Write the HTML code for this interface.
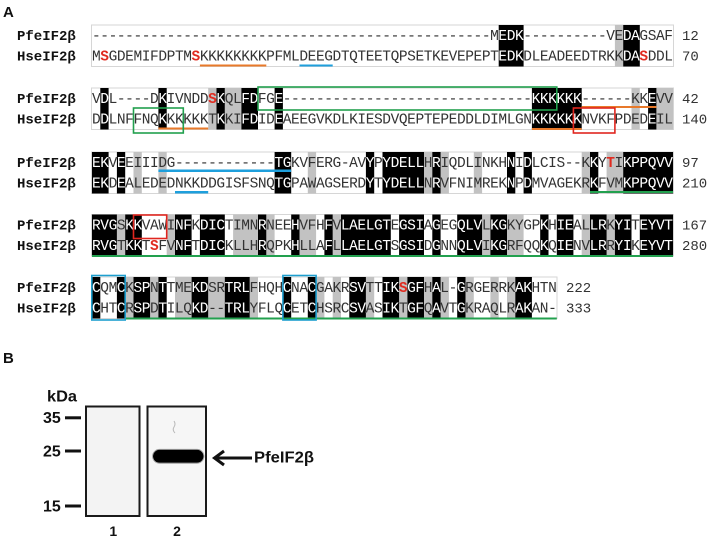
<!DOCTYPE html>
<html><head><meta charset="utf-8">
<style>
html,body{margin:0;padding:0;background:#fff;}
svg{display:block;}
.s{font-family:"Liberation Mono",monospace;font-size:14.5px;fill:#333;}
.w{font-family:"Liberation Mono",monospace;font-size:14.5px;fill:#fff;}
.n{font-family:"Liberation Mono",monospace;font-size:14px;font-weight:bold;fill:#111;}
.num{font-family:"Liberation Mono",monospace;font-size:14px;fill:#333;}
.r{fill:#e02b20;font-weight:bold;}
.lb{font-family:"Liberation Sans",sans-serif;font-weight:bold;fill:#111;}
</style></head>
<body>
<svg width="709" height="540" viewBox="0 0 709 540" xmlns="http://www.w3.org/2000/svg">
<rect width="709" height="540" fill="#fff"/>
<defs>
<clipPath id="k">
<rect x="498.7" y="25" width="24.9" height="41.5"/><rect x="623.2" y="25" width="16.6" height="41.5"/>
<rect x="100.3" y="88" width="8.3" height="41.5"/><rect x="158.4" y="88" width="8.3" height="41.5"/><rect x="216.5" y="88" width="8.3" height="41.5"/><rect x="241.4" y="88" width="16.6" height="41.5"/><rect x="274.6" y="88" width="8.3" height="41.5"/><rect x="531.9" y="88" width="49.8" height="41.5"/><rect x="648.1" y="88" width="8.3" height="41.5"/>
<rect x="92" y="152" width="16.6" height="41.5"/><rect x="116.9" y="152" width="8.3" height="41.5"/><rect x="274.6" y="152" width="16.6" height="41.5"/><rect x="365.9" y="152" width="8.3" height="41.5"/><rect x="382.5" y="152" width="41.5" height="41.5"/><rect x="432.3" y="152" width="8.3" height="41.5"/><rect x="507" y="152" width="8.3" height="41.5"/><rect x="523.6" y="152" width="8.3" height="41.5"/><rect x="590" y="152" width="8.3" height="41.5"/><rect x="623.2" y="152" width="49.8" height="41.5"/>
<rect x="92" y="214.5" width="24.9" height="41.5"/><rect x="125.2" y="214.5" width="16.6" height="41.5"/><rect x="175" y="214.5" width="16.6" height="41.5"/><rect x="199.9" y="214.5" width="24.9" height="41.5"/><rect x="258" y="214.5" width="8.3" height="41.5"/><rect x="291.2" y="214.5" width="8.3" height="41.5"/><rect x="324.4" y="214.5" width="8.3" height="41.5"/><rect x="341" y="214.5" width="49.8" height="41.5"/><rect x="399.1" y="214.5" width="24.9" height="41.5"/><rect x="432.3" y="214.5" width="8.3" height="41.5"/><rect x="457.2" y="214.5" width="24.9" height="41.5"/><rect x="490.4" y="214.5" width="16.6" height="41.5"/><rect x="540.2" y="214.5" width="8.3" height="41.5"/><rect x="556.8" y="214.5" width="16.6" height="41.5"/><rect x="590" y="214.5" width="16.6" height="41.5"/><rect x="614.9" y="214.5" width="16.6" height="41.5"/><rect x="639.8" y="214.5" width="33.2" height="41.5"/>
<rect x="92" y="277" width="8.3" height="41.5"/><rect x="116.9" y="277" width="8.3" height="41.5"/><rect x="133.5" y="277" width="16.6" height="41.5"/><rect x="158.4" y="277" width="8.3" height="41.5"/><rect x="191.6" y="277" width="16.6" height="41.5"/><rect x="224.8" y="277" width="24.9" height="41.5"/><rect x="282.9" y="277" width="8.3" height="41.5"/><rect x="307.8" y="277" width="8.3" height="41.5"/><rect x="349.3" y="277" width="16.6" height="41.5"/><rect x="382.5" y="277" width="16.6" height="41.5"/><rect x="407.4" y="277" width="16.6" height="41.5"/><rect x="432.3" y="277" width="8.3" height="41.5"/><rect x="457.2" y="277" width="8.3" height="41.5"/><rect x="515.3" y="277" width="16.6" height="41.5"/>
</clipPath>
</defs>

<!-- Panel A label -->
<text class="lb" x="3" y="17" font-size="15">A</text>

<!-- light borders -->
<g fill="none" stroke="#d6d6d6" stroke-width="1">
<rect x="91.5" y="25" width="582" height="41.5"/>
<rect x="91.5" y="88" width="582" height="41.5"/>
<rect x="91.5" y="152" width="582" height="41.5"/>
<rect x="91.5" y="214.5" width="582" height="41.5"/>
<rect x="91.5" y="277" width="465.5" height="41.5"/>
</g>

<!-- grey cells -->
<g fill="#c2c2c2">
<rect x="614.9" y="25" width="8.3" height="41.5"/>
<rect x="208.2" y="88" width="8.3" height="41.5"/><rect x="224.8" y="88" width="16.6" height="41.5"/><rect x="631.5" y="88" width="8.3" height="41.5"/><rect x="656.4" y="88" width="16.6" height="41.5"/>
<rect x="133.5" y="152" width="8.3" height="41.5"/><rect x="158.4" y="152" width="8.3" height="41.5"/><rect x="307.8" y="152" width="8.3" height="41.5"/><rect x="424" y="152" width="8.3" height="41.5"/><rect x="440.6" y="152" width="8.3" height="41.5"/><rect x="473.8" y="152" width="8.3" height="41.5"/><rect x="581.7" y="152" width="8.3" height="41.5"/><rect x="606.6" y="152" width="16.6" height="41.5"/>
<rect x="116.9" y="214.5" width="8.3" height="41.5"/><rect x="166.7" y="214.5" width="8.3" height="41.5"/><rect x="233.1" y="214.5" width="24.9" height="41.5"/><rect x="266.3" y="214.5" width="8.3" height="41.5"/><rect x="299.5" y="214.5" width="16.6" height="41.5"/><rect x="332.7" y="214.5" width="8.3" height="41.5"/><rect x="482.1" y="214.5" width="8.3" height="41.5"/><rect x="507" y="214.5" width="16.6" height="41.5"/><rect x="581.7" y="214.5" width="8.3" height="41.5"/><rect x="606.6" y="214.5" width="8.3" height="41.5"/>
<rect x="125.2" y="277" width="8.3" height="41.5"/><rect x="150.1" y="277" width="8.3" height="41.5"/><rect x="175" y="277" width="16.6" height="41.5"/><rect x="208.2" y="277" width="16.6" height="41.5"/><rect x="249.7" y="277" width="8.3" height="41.5"/><rect x="316.1" y="277" width="8.3" height="41.5"/><rect x="332.7" y="277" width="8.3" height="41.5"/><rect x="365.9" y="277" width="8.3" height="41.5"/><rect x="399.1" y="277" width="8.3" height="41.5"/><rect x="424" y="277" width="8.3" height="41.5"/><rect x="440.6" y="277" width="8.3" height="41.5"/><rect x="465.5" y="277" width="8.3" height="41.5"/><rect x="490.4" y="277" width="8.3" height="41.5"/><rect x="507" y="277" width="8.3" height="41.5"/>
</g>

<!-- black cells -->
<rect x="0" y="0" width="709" height="540" fill="#000" clip-path="url(#k)"/>

<!-- underlines -->
<g>
<rect x="199.9" y="64.5" width="66.4" height="2" fill="#e8792a"/>
<rect x="299.5" y="64.5" width="33.2" height="2" fill="#1e9fdc"/>
<rect x="581.7" y="106" width="74.7" height="2" fill="#e8792a"/>
<rect x="158.4" y="127.5" width="49.8" height="2" fill="#e8792a"/>
<rect x="531.9" y="128" width="49.8" height="2" fill="#e8792a"/>
<rect x="158.4" y="169.5" width="132.8" height="2.5" fill="#1e9fdc"/>
<rect x="175" y="191" width="33.2" height="2.5" fill="#1e9fdc"/>
<rect x="590" y="191" width="83" height="2" fill="#22a04e"/>
<rect x="92" y="255" width="581" height="2" fill="#22a04e"/>
<rect x="125.2" y="317.5" width="431.6" height="2" fill="#22a04e"/>
</g>

<!-- names -->
<g>
<text class="n" x="17" y="40">PfeIF2β</text><text class="n" x="17" y="60.5">HseIF2β</text>
<text class="n" x="17" y="103">PfeIF2β</text><text class="n" x="17" y="123.5">HseIF2β</text>
<text class="n" x="17" y="167">PfeIF2β</text><text class="n" x="17" y="187.5">HseIF2β</text>
<text class="n" x="17" y="229.5">PfeIF2β</text><text class="n" x="17" y="250">HseIF2β</text>
<text class="n" x="17" y="292">PfeIF2β</text><text class="n" x="17" y="312.5">HseIF2β</text>
</g>

<!-- sequences (dark) -->
<text class="s" x="92" y="40" textLength="581" lengthAdjust="spacing">------------------------------------------------MEDK----------VEDAGSAF</text>
<text class="s" x="92" y="60.5" textLength="581" lengthAdjust="spacing">M<tspan class="r">S</tspan>GDEMIFDPTM<tspan class="r">S</tspan>KKKKKKKKPFMLDEEGDTQTEETQPSETKEVEPEPTEDKDLEADEEDTRKKDA<tspan class="r">S</tspan>DDL</text>
<text class="s" x="92" y="103" textLength="581" lengthAdjust="spacing">VDL----DKIVNDD<tspan class="r">S</tspan>KQLFDFGE------------------------------KKKKKK------KKEVV</text>
<text class="s" x="92" y="123.5" textLength="581" lengthAdjust="spacing">DDLNFFNQKKKKKKTKKIFDIDEAEEGVKDLKIESDVQEPTEPEDDLDIMLGNKKKKKKNVKFPDEDEIL</text>
<text class="s" x="92" y="167" textLength="581" lengthAdjust="spacing">EKVEEIIIDG------------TGKVFERG-AVYPYDELLHRIQDLINKHNIDLCIS--KKY<tspan class="r">T</tspan>IKPPQVV</text>
<text class="s" x="92" y="187.5" textLength="581" lengthAdjust="spacing">EKDEALEDEDNKKDDGISFSNQTGPAWAGSERDYTYDELLNRVFNIMREKNPDMVAGEKRKFVMKPPQVV</text>
<text class="s" x="92" y="229.5" textLength="581" lengthAdjust="spacing">RVGSKKVAWINFKDICTIMNRNEEHVFHFVLAELGTEGSIAGEGQLVLKGKYGPKHIEALLRKYITEYVT</text>
<text class="s" x="92" y="250" textLength="581" lengthAdjust="spacing">RVGTKKT<tspan class="r">S</tspan>FVNFTDICKLLHRQPKHLLAFLLAELGTSGSIDGNNQLVIKGRFQQKQIENVLRRYIKEYVT</text>
<text class="s" x="92" y="292" textLength="464.8" lengthAdjust="spacing">CQMCKSPNTTMEKDSRTRLFHQHCNACGAKRSVTTIK<tspan class="r">S</tspan>GFHAL-GRGERRKAKHTN</text>
<text class="s" x="92" y="312.5" textLength="464.8" lengthAdjust="spacing">CHTCRSPDTILQKD--TRLYFLQCETCHSRCSVASIKTGFQAVTGKRAQLRAKAN-</text>

<!-- sequences (white on black) -->
<g clip-path="url(#k)">
<text class="w" x="92" y="40" textLength="581" lengthAdjust="spacing">------------------------------------------------MEDK----------VEDAGSAF</text>
<text class="w" x="92" y="60.5" textLength="581" lengthAdjust="spacing">MSGDEMIFDPTMSKKKKKKKKPFMLDEEGDTQTEETQPSETKEVEPEPTEDKDLEADEEDTRKKDASDDL</text>
<text class="w" x="92" y="103" textLength="581" lengthAdjust="spacing">VDL----DKIVNDDSKQLFDFGE------------------------------KKKKKK------KKEVV</text>
<text class="w" x="92" y="123.5" textLength="581" lengthAdjust="spacing">DDLNFFNQKKKKKKTKKIFDIDEAEEGVKDLKIESDVQEPTEPEDDLDIMLGNKKKKKKNVKFPDEDEIL</text>
<text class="w" x="92" y="167" textLength="581" lengthAdjust="spacing">EKVEEIIIDG------------TGKVFERG-AVYPYDELLHRIQDLINKHNIDLCIS--KKYTIKPPQVV</text>
<text class="w" x="92" y="187.5" textLength="581" lengthAdjust="spacing">EKDEALEDEDNKKDDGISFSNQTGPAWAGSERDYTYDELLNRVFNIMREKNPDMVAGEKRKFVMKPPQVV</text>
<text class="w" x="92" y="229.5" textLength="581" lengthAdjust="spacing">RVGSKKVAWINFKDICTIMNRNEEHVFHFVLAELGTEGSIAGEGQLVLKGKYGPKHIEALLRKYITEYVT</text>
<text class="w" x="92" y="250" textLength="581" lengthAdjust="spacing">RVGTKKTSFVNFTDICKLLHRQPKHLLAFLLAELGTSGSIDGNNQLVIKGRFQQKQIENVLRRYIKEYVT</text>
<text class="w" x="92" y="292" textLength="464.8" lengthAdjust="spacing">CQMCKSPNTTMEKDSRTRLFHQHCNACGAKRSVTTIKSGFHAL-GRGERRKAKHTN</text>
<text class="w" x="92" y="312.5" textLength="464.8" lengthAdjust="spacing">CHTCRSPDTILQKD--TRLYFLQCETCHSRCSVASIKTGFQAVTGKRAQLRAKAN-</text>
</g>

<!-- numbers -->
<text class="num" x="682" y="40">12</text><text class="num" x="682" y="60.5">70</text>
<text class="num" x="682" y="103">42</text><text class="num" x="682" y="123.5">140</text>
<text class="num" x="682" y="167">97</text><text class="num" x="682" y="187.5">210</text>
<text class="num" x="682" y="229.5">167</text><text class="num" x="682" y="250">280</text>
<text class="num" x="566" y="292">222</text><text class="num" x="566" y="312.5">333</text>

<!-- boxes -->
<g fill="none" stroke-width="1.6">
<rect x="133.5" y="108" width="49.8" height="25" stroke="#22a04e"/>
<rect x="258" y="87" width="298.8" height="23" stroke="#22a04e"/>
<rect x="573.4" y="108" width="41.5" height="25" stroke="#e0261f"/>
<rect x="133.5" y="215" width="33.2" height="23.5" stroke="#e0261f"/>
<rect x="91.8" y="275.5" width="33.4" height="44.5" stroke="#1e9fcf"/>
<rect x="282.9" y="275.5" width="33.2" height="44.5" stroke="#1e9fcf"/>
</g>

<!-- Panel B -->
<text class="lb" x="3" y="363" font-size="15">B</text>
<text class="lb" x="47" y="401.5" font-size="16" textLength="30" lengthAdjust="spacingAndGlyphs">kDa</text>
<text class="lb" x="43" y="423" font-size="16">35</text>
<text class="lb" x="43" y="456.7" font-size="16">25</text>
<text class="lb" x="43" y="511.7" font-size="16">15</text>
<rect x="65" y="416.3" width="16" height="3" fill="#111"/>
<rect x="65" y="449.5" width="16" height="3" fill="#111"/>
<rect x="65" y="504.5" width="16" height="3" fill="#111"/>

<rect x="86" y="406.5" width="53.5" height="109.5" fill="#f3f3f3" stroke="#1a1a1a" stroke-width="2"/>
<rect x="147.5" y="406.5" width="58.5" height="109.5" fill="#f6f6f6" stroke="#1a1a1a" stroke-width="2"/>
<path d="M174 421 q2 3 0 6 q-2 3 1 6" fill="none" stroke="#b8b8b8" stroke-width="1"/>
<rect x="153" y="449.8" width="50.5" height="13" rx="6.5" fill="#000"/>
<rect x="152.5" y="449.3" width="51.5" height="14" rx="7" fill="none" stroke="#666" stroke-width="0.8" opacity="0.6"/>

<line x1="216" y1="458" x2="252" y2="458" stroke="#111" stroke-width="3"/>
<polyline points="224,451 214.5,458 224,465" fill="none" stroke="#111" stroke-width="3" stroke-linejoin="miter"/>
<text class="lb" x="254" y="462.5" font-size="15.5" textLength="60" lengthAdjust="spacingAndGlyphs">PfeIF2β</text>

<text class="lb" x="113.3" y="536" font-size="14" text-anchor="middle">1</text>
<text class="lb" x="177" y="536" font-size="14" text-anchor="middle">2</text>
</svg>
</body></html>
